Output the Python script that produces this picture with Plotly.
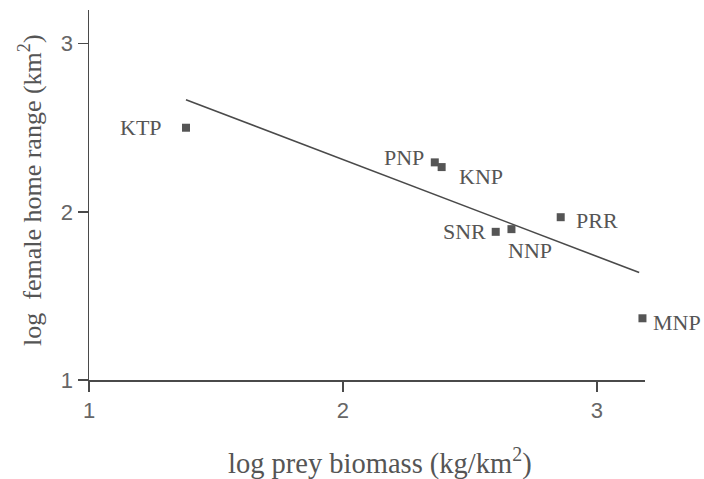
import plotly.graph_objects as go

# Data
sites = ["KTP", "PNP", "KNP", "SNR", "NNP", "PRR", "MNP"]
log_prey_biomass = [1.382, 2.362, 2.389, 2.602, 2.664, 2.858, 3.180]
log_home_range = [2.500, 2.294, 2.266, 1.881, 1.897, 1.968, 1.367]

# Regression line endpoints
fit_x = [1.382, 3.167]
fit_y = [2.667, 1.639]

x_ticks = [1, 2, 3]
y_ticks = [1, 2, 3]

# label placement (pixel offsets, anchors)
label_style = {
    "KTP": dict(xanchor="right", xshift=-22, yshift=0),
    "PNP": dict(xanchor="right", xshift=-9, yshift=5),
    "KNP": dict(xanchor="left", xshift=15, yshift=-9),
    "SNR": dict(xanchor="right", xshift=-8, yshift=0),
    "NNP": dict(xanchor="center", xshift=19, yshift=-21),
    "PRR": dict(xanchor="left", xshift=13, yshift=-3),
    "MNP": dict(xanchor="left", xshift=9, yshift=-4),
}

ink = "#555555"
serif = "Liberation Serif"

W, H = 704, 479
PL, PR, PT, PB = 89, 645, 10, 380  # plot box in figure pixels

fig = go.Figure()
fig.add_trace(go.Scatter(x=fit_x, y=fit_y, mode="lines",
                         line=dict(color="#4a4a4a", width=1.6),
                         hoverinfo="skip", showlegend=False))
fig.add_trace(go.Scatter(x=log_prey_biomass, y=log_home_range, mode="markers",
                         marker=dict(symbol="square", size=8, color="#555555"),
                         text=sites, showlegend=False, cliponaxis=False))

annotations = []
for s, xv, yv in zip(sites, log_prey_biomass, log_home_range):
    st = label_style[s]
    annotations.append(dict(x=xv, y=yv, xref="x", yref="y", text=s, showarrow=False,
                            xanchor=st["xanchor"], yanchor="middle",
                            xshift=st["xshift"], yshift=st["yshift"],
                            font=dict(family=serif, size=22, color=ink)))

pw, ph = PR - PL, PB - PT
# axis titles (positions in pixels converted to paper coords)
annotations.append(dict(text="log prey biomass (kg/km<sup>2</sup>)", xref="paper", yref="paper",
                        x=(380 - PL) / pw, y=-(461 - PB) / ph,
                        xanchor="center", yanchor="middle", showarrow=False,
                        font=dict(family=serif, size=28.5, color=ink)))
annotations.append(dict(text="log  female home range (km<sup>2</sup>)", xref="paper", yref="paper",
                        x=-(PL - 30) / pw, y=(PB - 190) / ph,
                        xanchor="center", yanchor="middle", textangle=-90, showarrow=False,
                        font=dict(family=serif, size=26, color=ink)))

axis_common = dict(showline=True, linecolor="#4a4a4a", linewidth=1.5,
                   ticks="outside", ticklen=10, tickwidth=1.5, tickcolor="#4a4a4a",
                   showgrid=False, zeroline=False, automargin=False,
                   tickfont=dict(family="Liberation Sans", size=22, color="#666666"))

fig.update_layout(
    width=W, height=H,
    margin=dict(l=PL, r=W - PR, t=PT, b=H - PB, autoexpand=False),
    paper_bgcolor="white", plot_bgcolor="white",
    xaxis=dict(range=[1, 3.19], tickvals=x_ticks, ticktext=[str(v) for v in x_ticks],
               **axis_common),
    yaxis=dict(range=[1, 3.2], tickvals=y_ticks, ticktext=[str(v) for v in y_ticks],
               **axis_common),
    annotations=annotations,
    showlegend=False,
)

fig.write_html(
    "out.html",
    config={"displayModeBar": False, "staticPlot": True},
    post_script=("document.body.style.margin='0';"
                 "document.body.style.overflow='hidden';"
                 "document.documentElement.style.overflow='hidden';"),
)
